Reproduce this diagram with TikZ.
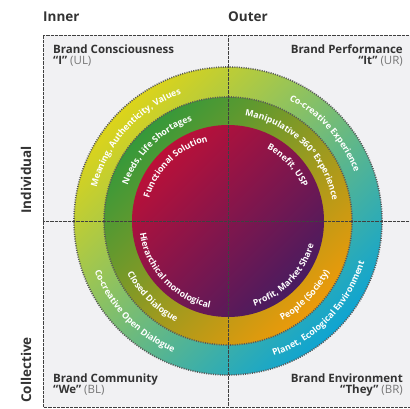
\documentclass[tikz,border=0pt]{standalone}
\usepackage{fontspec}
\setmainfont{Open Sans}
\usetikzlibrary{decorations.text}
\definecolor{ringyellow}{HTML}{DCD41A}
\definecolor{ringcyan}{HTML}{0EA4D2}
\definecolor{ringgreen}{HTML}{35993A}
\definecolor{ringorange}{HTML}{EC9A0A}
\definecolor{corered}{HTML}{BC1038}
\definecolor{corepurple}{HTML}{481C60}
\definecolor{boxgray}{HTML}{F1F1F3}
\definecolor{labelgray}{HTML}{333333}
\definecolor{taggray}{HTML}{777777}

\begin{document}
\begin{tikzpicture}[x=1pt,y=1pt,
  head/.style={font=\bfseries\fontsize{13.5}{15}\selectfont,text=labelgray,inner sep=0pt},
  quad/.style={font=\bfseries\fontsize{11.5}{13}\selectfont,text=labelgray,inner sep=0pt},
  side/.style={head,rotate=90},
  divider/.style={black!75,line width=0.7pt,dash pattern=on 0.5pt off 0.8pt},
  rim/.style={black!65,line width=1.6pt,dash pattern=on 1pt off 1.3pt},
  ringtext/.style={decorate,decoration={text along path,text align=center,
    text={|\bfseries\fontsize{8.8}{10}\selectfont\color{white}|#1}}}]
\useasboundingbox (0,0) rectangle (410,409);
\coordinate (c) at (228,188);
\fill[boxgray] (43,2) rectangle (410,374);
\draw[divider] (410,374) -- (43,374) -- (43,2) -- (410,2);
\shade[top color=ringyellow,bottom color=ringcyan,shading angle=45] (c) circle[radius=154];
\draw[rim] (c) circle[radius=154];
\shade[top color=ringgreen,bottom color=ringorange,shading angle=45] (c) circle[radius=124];
\draw[rim] (c) circle[radius=124];
\shade[top color=corered,bottom color=corepurple,shading angle=45] (c) circle[radius=96];
\draw[divider] (228,374) -- (228,2);
\draw[divider] (43,188) -- (410,188);
\path[ringtext={Meaning, Authenticity, Values}] (c) ++(193:135.5) arc[start angle=193,end angle=83,radius=135.5];
\path[ringtext={Co-creative Experience}] (c) ++(97:135.5) arc[start angle=97,end angle=-13,radius=135.5];
\path[ringtext={Co-creative Open Dialogue}] (c) ++(169:142.5) arc[start angle=169,end angle=279,radius=142.5];
\path[ringtext={Planet, Ecological Environment}] (c) ++(261:142.5) arc[start angle=261,end angle=371,radius=142.5];
\path[ringtext={Needs, Life Shortages}] (c) ++(190:106.5) arc[start angle=190,end angle=80,radius=106.5];
\path[ringtext={Manipulative 360° Experience}] (c) ++(101:106.5) arc[start angle=101,end angle=-9,radius=106.5];
\path[ringtext={Closed Dialogue}] (c) ++(170:113.5) arc[start angle=170,end angle=280,radius=113.5];
\path[ringtext={People (Society)}] (c) ++(261:113.5) arc[start angle=261,end angle=371,radius=113.5];
\path[ringtext={Functional Solution}] (c) ++(189:82) arc[start angle=189,end angle=79,radius=82];
\path[ringtext={Benefit, USP}] (c) ++(98:82) arc[start angle=98,end angle=-12,radius=82];
\path[ringtext={Hierarchical monological}] (c) ++(168:89) arc[start angle=168,end angle=278,radius=89];
\path[ringtext={Profit, Market Share}] (c) ++(261:89) arc[start angle=261,end angle=371,radius=89];
\node[head,anchor=base west] (inner) at (43,387) {Inner};
\node[head,anchor=base west] (outer) at (228,387) {Outer};
\node[side] (individual) at (26,229) {Individual};
\node[side] (collective) at (26,39) {Collective};
\node[quad,anchor=base west] (ul) at (53,355) {Brand Consciousness};
\node[quad,anchor=base west] (ultag) at (53,344) {“I” \textcolor{taggray}{\mdseries(UL)}};
\node[quad,anchor=base east] (ur) at (403,355) {Brand Performance};
\node[quad,anchor=base east] (urtag) at (403,344) {“It” \textcolor{taggray}{\mdseries(UR)}};
\node[quad,anchor=base west] (bl) at (53,26) {Brand Community};
\node[quad,anchor=base west] (bltag) at (53,15) {“We” \textcolor{taggray}{\mdseries(BL)}};
\node[quad,anchor=base east] (br) at (403,26) {Brand Environment};
\node[quad,anchor=base east] (brtag) at (403,15) {“They” \textcolor{taggray}{\mdseries(BR)}};
\end{tikzpicture}
\end{document}
